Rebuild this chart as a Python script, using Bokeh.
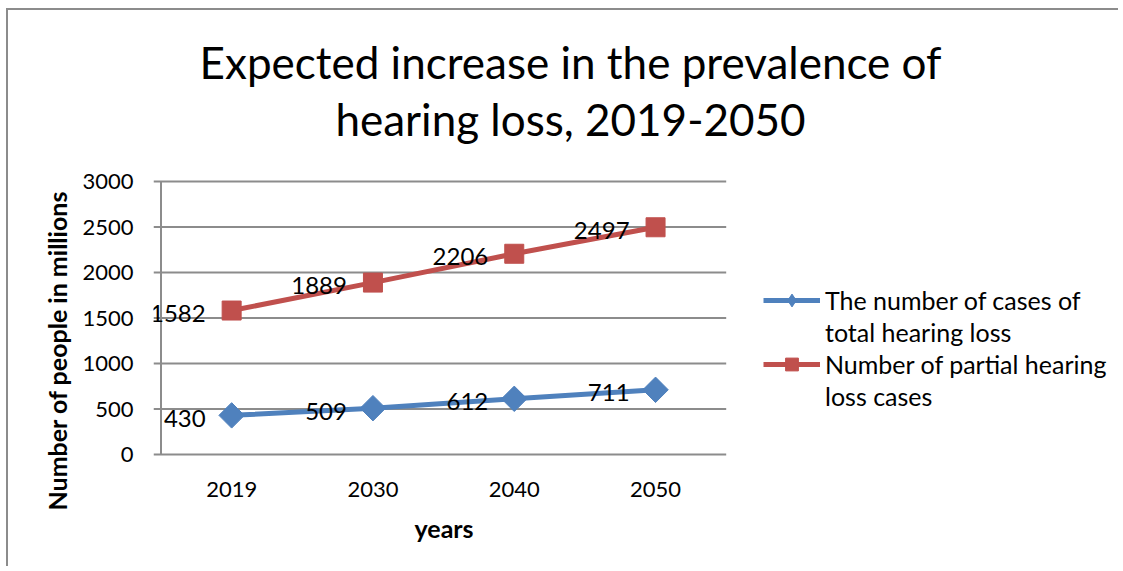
import math
from bokeh.plotting import figure
from bokeh.models import (Title, Legend, LegendItem, Label, ColumnDataSource,
                          Range1d, FixedTicker)
from bokeh.core.properties import value
from bokeh.embed import file_html
from bokeh.resources import INLINE

years = ["2019", "2030", "2040", "2050"]
total_loss = [430, 509, 612, 711]
partial_loss = [1582, 1889, 2206, 2497]
series_lines = [["The number of cases of", "total hearing loss"],
                ["Number of partial hearing", "loss cases"]]
title_lines = ["Expected increase in the prevalence of", "hearing loss, 2019-2050"]
y_title = "Number of people in millions"
x_title = "years"
y_ticks = [0, 500, 1000, 1500, 2000, 2500, 3000]

FONT = "Lato"
BLUE = "#4F81BD"
RED = "#C0504D"
GRID = "#8c8c8c"

# ---- layout constants (page pixels) ----
W, H = 1112, 558
X0, Y0 = 8, 10                 # content origin after css margin + border
F_LEFT, F_RIGHT = 153, 1118    # frame extent (frame also hosts title + legend)
F_TOP, F_BOTTOM = 12, 456
AX_LEFT = 160.5                # value axis position
CAT_W = 141.3                  # px per category
PX_Y0, PX_Y3000 = 454, 181     # pixel rows of 0 and 3000

k = (PX_Y0 - PX_Y3000) / (y_ticks[-1] - y_ticks[0])
y_start = y_ticks[0] - (F_BOTTOM - PX_Y0) / k
y_end = y_ticks[0] + (PX_Y0 - F_TOP) / k
x_start = -0.5 - (AX_LEFT - F_LEFT) / CAT_W
x_end = x_start + (F_RIGHT - F_LEFT) / CAT_W

xpos = list(range(len(years)))

p = figure(width=W, height=H, x_range=Range1d(x_start, x_end),
           y_range=Range1d(y_start, y_end), output_backend="svg",
           toolbar_location=None, min_border_left=F_LEFT - X0,
           min_border_right=X0 + W - F_RIGHT, min_border_top=F_TOP - Y0,
           min_border_bottom=Y0 + H - F_BOTTOM, outline_line_color=None,
           title=None)

p.styles = {"margin-left": "6px", "margin-top": "8px",
            "border-top": "2px solid #8c8c8c", "border-left": "2px solid #8c8c8c"}

# gridlines and value-axis line
p.xgrid.grid_line_color = None
p.ygrid.grid_line_color = None
p.segment(x0=[x_start] * len(y_ticks), x1=[len(years) - 0.5] * len(y_ticks),
          y0=y_ticks, y1=y_ticks, line_color=GRID, line_width=2)
p.segment(x0=[-0.5], x1=[-0.5], y0=[y_ticks[0]], y1=[y_ticks[-1]],
          line_color=GRID, line_width=2)

src = ColumnDataSource(dict(x=xpos, total=total_loss, partial=partial_loss,
                            tl=[str(v) for v in total_loss],
                            pl=[str(v) for v in partial_loss]))

r1l = p.line("x", "total", source=src, line_color=BLUE, line_width=5)
# small diamond used for the legend swatch (hidden under the larger rotated square)
r1d = p.scatter("x", "total", source=src, marker="diamond", size=14,
                fill_color=BLUE, line_color=BLUE)
r1m = p.scatter("x", "total", source=src, marker="square", size=18,
                angle=math.pi / 4, fill_color=BLUE, line_color=BLUE)
r2l = p.line("x", "partial", source=src, line_color=RED, line_width=5)
r2m = p.scatter("x", "partial", source=src, marker="square", size=19,
                fill_color=RED, line_color=RED)

# legend-only blank entry for the second line of each wrapped label
leg_blank = p.line(x="x", y="y", source=ColumnDataSource(dict(x=[], y=[])), line_alpha=0)

for col, ycol in (("tl", "total"), ("pl", "partial")):
    p.text("x", ycol, text=col, source=src, x_offset=-26, y_offset=3,
           text_align="right", text_baseline="middle",
           text_font=value(FONT), text_font_size="24px", text_color="#000000")

# chart title (inside the frame, screen units from frame bottom-left)
tcx = 570 - F_LEFT
for line, base in zip(title_lines, (61, 118)):
    p.add_layout(Label(x=tcx, y=F_BOTTOM - base, x_units="screen", y_units="screen",
                       text=line, text_align="center", text_baseline="alphabetic",
                       text_font=FONT, text_font_size="44px", text_color="#000000"))

# axes
p.yaxis.ticker = FixedTicker(ticks=y_ticks)
p.yaxis.axis_line_color = None
p.yaxis.major_tick_line_color = None
p.yaxis.major_tick_out = 0
p.yaxis.major_tick_in = 0
p.yaxis.minor_tick_line_color = None
p.yaxis.major_label_standoff = 20
p.yaxis.major_label_text_font = FONT
p.yaxis.major_label_text_font_size = "22px"
p.yaxis.major_label_text_color = "#000000"

p.xaxis.ticker = FixedTicker(ticks=xpos)
p.xaxis.major_label_overrides = {i: y for i, y in zip(xpos, years)}
p.xaxis.axis_line_color = None
p.xaxis.major_tick_line_color = None
p.xaxis.minor_tick_line_color = None
p.xaxis.major_tick_out = 0
p.xaxis.major_tick_in = 0
p.xaxis.major_label_standoff = 25
p.xaxis.major_label_text_font = FONT
p.xaxis.major_label_text_font_size = "22px"
p.xaxis.major_label_text_color = "#000000"

p.add_layout(Title(text=x_title, align="left", offset=443 - 29 - F_LEFT, standoff=22,
                   text_font=FONT, text_font_size="25px", text_font_style="bold",
                   text_color="#000000"), "below")
p.add_layout(Title(text=y_title, align="left", offset=F_BOTTOM - 510, standoff=16,
                   text_font=FONT, text_font_size="25px", text_font_style="bold",
                   text_color="#000000"), "left")

legend = Legend(items=[LegendItem(label=series_lines[0][0], renderers=[r1l, r1d]),
                       LegendItem(label=series_lines[0][1], renderers=[leg_blank]),
                       LegendItem(label=series_lines[1][0], renderers=[r2l, r2m]),
                       LegendItem(label=series_lines[1][1], renderers=[leg_blank])],
                location=(763 - F_LEFT, F_BOTTOM - 412), orientation="vertical",
                label_text_font=FONT, label_text_font_size="25px",
                label_text_color="#000000", glyph_width=57, glyph_height=32,
                label_height=30, label_standoff=5, spacing=0, padding=0, margin=0,
                border_line_color=None, background_fill_alpha=0)
p.add_layout(legend)

open("out.html", "w").write(file_html(p, INLINE))
